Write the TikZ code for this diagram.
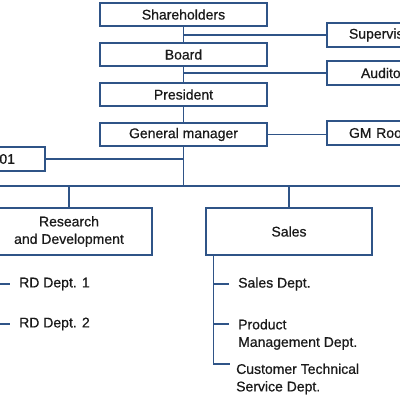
\documentclass[tikz,border=0pt]{standalone}
\usepackage{fontspec}
\setmainfont{Liberation Sans}[FakeBold=0.7]
\usetikzlibrary{positioning}
\usetikzlibrary{calc}
\definecolor{orgblue}{HTML}{2F5487}
\definecolor{orgtext}{HTML}{1A1A1A}
\newcommand{\onode}[3]{\node(#1)[unit,#2]{#3}}

\begin{document}
\begin{tikzpicture}[
        x=1pt,y=-1pt,
        every node/.style={font=\fontsize{14}{17.5}\selectfont,text=orgtext},
        unit/.style={rectangle,draw=orgblue,line width=1.5pt,
                     minimum width=167pt,minimum height=23pt,inner sep=0pt},
        dept/.style={minimum width=166pt,minimum height=47pt,align=center},
        side/.style={minimum height=24pt,text width=#1,align=left},
        leaf/.style={anchor=west,align=left,inner xsep=9pt,inner ysep=0pt},
        link/.style={draw=orgblue,line width=1.5pt}
      ]
      \useasboundingbox (0,0) rectangle (400,400);
      % main line
      \onode{share}{at={(183.5,14.5)}}{Shareholders};
      \onode{board}{below=15.5pt of share}{Board};
      \onode{pres}{below=15.5pt of board}{President};
      \onode{gm}{below=15.5pt of pres}{General manager};
      % side units
      \onode{sup}{side=123pt,at={(410.5,35)}}{Supervis};
      \onode{aud}{side=99pt,at={(410.5,73)}}{Audito};
      \onode{gmr}{side=123pt,at={(410.5,133)}}{GM Roo};
      \onode{room}{minimum height=24pt,text width=107pt,align=right,at={(-38.5,159)}}{01};
      % departments
      \onode{rd}{dept,at={(69,231.5)}}{Research\\and Development};
      \onode{sales}{dept,at={(289,231.5)}}{Sales};
      \node(rd1)[leaf] at (10,284) {RD Dept. 1};
      \node(rd2)[leaf] at (10,324) {RD Dept. 2};
      \node(sd)[leaf] at (229,284) {Sales Dept.};
      \node(pm)[leaf] at (229,334.5) {Product\\Management Dept.};
      \node(cts)[leaf] at (227,379) {Customer Technical\\Service Dept.};
      \coordinate(bus) at (183.5,186);
      \coordinate(busl) at (-10,186);
      \coordinate(busr) at (410,186);
      \coordinate(rdbar) at ($(rd.south west)+(8,0)$);
      \coordinate(sbar) at ($(sales.south west)+(8,0)$);
      \coordinate(pmtick) at ($(pm.west)+(0,-10.5)$);
      \coordinate(ctstick) at (230,364);

      \draw[link] (share) -- (board);
      \draw[link] (board) -- (pres);
      \draw[link] (pres) -- (gm);
      \draw[link] (gm.south) -- (bus);
      \draw[link] (sup.west) -- (sup.west -| share.south);
      \draw[link] (aud.west) -- (aud.west -| board.south);
      \draw[link] (gm.east) -- (gm.east -| gmr.west);
      \draw[link] (room.east) -- (room.east -| gm.south);
      \draw[link] (busl) -- (busr);
      \draw[link] (bus -| rd.north) -- (rd.north);
      \draw[link] (bus -| sales.north) -- (sales.north);
      \draw[link] (rdbar |- rd1.west) -- (rd1.west);
      \draw[link] (rdbar |- rd2.west) -- (rd2.west);
      \draw[link] (sbar) |- (ctstick);
      \draw[link] (sbar |- sd.west) -- (sd.west);
      \draw[link] (sbar |- pmtick) -- (pmtick);
    \end{tikzpicture}
\end{document}
